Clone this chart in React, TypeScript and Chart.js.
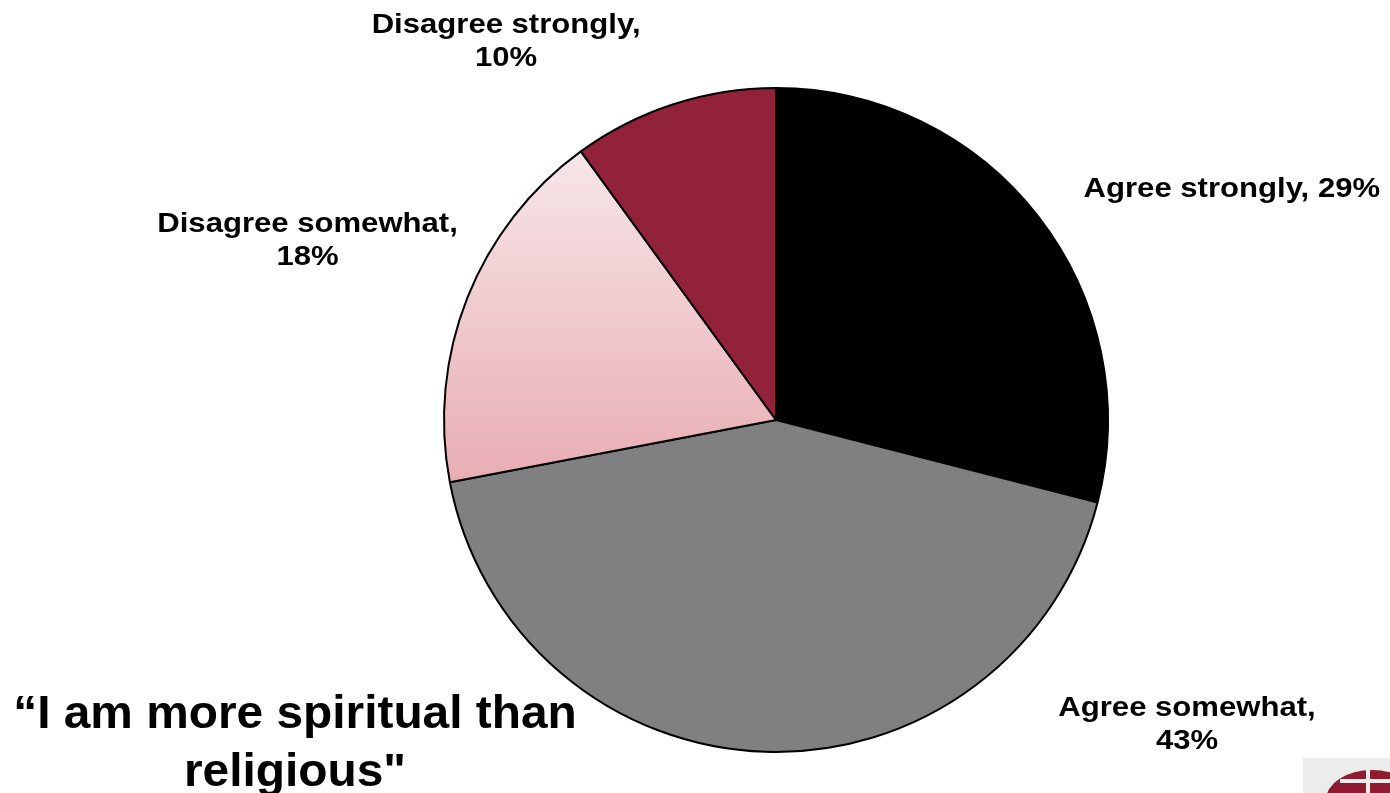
import React, { useEffect, useRef } from "react";
import { Chart, registerables } from "chart.js";

Chart.register(...registerables);

const categories = ["Agree strongly", "Agree somewhat", "Disagree somewhat", "Disagree strongly"];
const values = [29, 43, 18, 10];
const labelLines = [
  ["Agree strongly, 29%"],
  ["Agree somewhat,", "43%"],
  ["Disagree somewhat,", "18%"],
  ["Disagree strongly,", "10%"],
];
// label anchor (first baseline) offsets, in units of pie radius from the pie centre
const labelOffsets = [
  [1.373, -0.672],
  [1.238, 0.892],
  [-1.411, -0.566],
  [-0.813, -1.166],
];
const titleLines = ["\u201CI am more spiritual than", "religious\""];

const FONT = "'Liberation Sans', Arial, Helvetica, sans-serif";

function stretchText(ctx: any, t: string, x: number, y: number, sx: number) {
  ctx.save();
  ctx.translate(x, y);
  ctx.scale(sx, 1);
  ctx.fillText(t, 0, 0);
  ctx.restore();
}

const labelPlugin = {
  id: "pieLabels",
  afterDraw(chart: any) {
    const ctx = chart.ctx;
    const meta = chart.getDatasetMeta(0);
    const arc0 = meta.data[0];
    if (!arc0) return;
    const cx = arc0.x;
    const cy = arc0.y;
    const r = arc0.outerRadius;
    ctx.save();
    ctx.fillStyle = "#000";
    ctx.textAlign = "center";
    ctx.textBaseline = "alphabetic";
    ctx.font = `bold 28px ${FONT}`;
    const lh = 33;
    labelLines.forEach((lines, i) => {
      const x = cx + labelOffsets[i][0] * r;
      const y = cy + labelOffsets[i][1] * r;
      lines.forEach((t, j) => stretchText(ctx, t, x, y + j * lh, 1.11));
    });
    // title
    ctx.font = `bold 46px ${FONT}`;
    stretchText(ctx, titleLines[0], 295, 728, 1.04);
    stretchText(ctx, titleLines[1], 295, 786, 1.04);
    // logo fragment
    ctx.fillStyle = "#ececec";
    ctx.fillRect(1303, 758, 87, 35);
    ctx.fillStyle = "#8e1b30";
    ctx.beginPath();
    ctx.ellipse(1372, 800, 46, 30, 0, Math.PI, 2 * Math.PI);
    ctx.fill();
    ctx.fillStyle = "#ececec";
    ctx.fillRect(1340, 779, 50, 4);
    ctx.fillRect(1366, 764, 4, 30);
    ctx.restore();
  },
};

export default function App() {
  const ref = useRef<HTMLCanvasElement>(null);
  useEffect(() => {
    document.body.style.margin = "0";
    const canvas = ref.current!;
    const chart = new Chart(canvas, {
      type: "pie",
      data: {
        labels: categories,
        datasets: [
          {
            data: values,
            backgroundColor: (ctx: any) => {
              const i = ctx.dataIndex;
              if (i === 0) return "#000000";
              if (i === 1) return "#808080";
              if (i === 3) return "#912239";
              const el = ctx.chart.getDatasetMeta(0).data[0];
              const c = ctx.chart.ctx;
              if (!el || !el.outerRadius) return "#efcdd1";
              const cy = el.y;
              const r = el.outerRadius;
              const g = c.createLinearGradient(0, cy - 0.81 * r, 0, cy + 0.19 * r);
              g.addColorStop(0, "#f7e6e8");
              g.addColorStop(1, "#e8adb3");
              return g;
            },
            borderColor: "#000000",
            borderWidth: 2,
          },
        ],
      },
      options: {
        responsive: false,
        animation: false,
        layout: { padding: { left: 443, right: 281, top: 87, bottom: 40 } },
        plugins: {
          legend: { display: false },
          tooltip: { enabled: false },
        },
      },
      plugins: [labelPlugin],
    });
    chart.update();
    return () => chart.destroy();
  }, []);
  return (
    <div style={{ width: 1390, height: 793, background: "#fff", overflow: "hidden" }}>
      <canvas ref={ref} width={1390} height={793} style={{ display: "block" }} />
    </div>
  );
}
